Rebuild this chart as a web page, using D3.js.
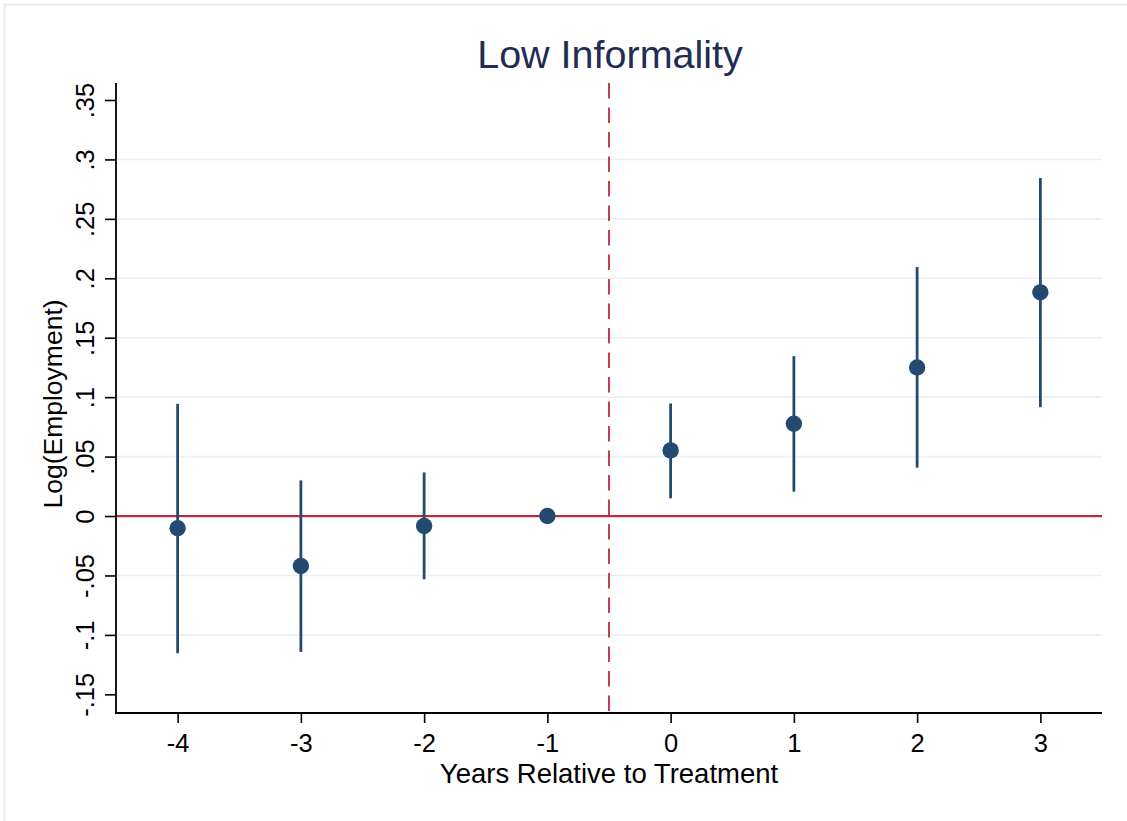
<!DOCTYPE html>
<html>
<head>
<meta charset="utf-8">
<script src="https://cdn.jsdelivr.net/npm/d3@7"></script>
<style>
  html, body { margin: 0; padding: 0; background: #fff; }
  svg { display: block; }
  text { font-family: "Liberation Sans", Arial, Helvetica, sans-serif; }
</style>
</head>
<body>
<svg id="chart" width="1127" height="821"></svg>
<script>
// ---- data ----
const years = [-4, -3, -2, -1, 0, 1, 2, 3];
const xTickLabels = ["-4", "-3", "-2", "-1", "0", "1", "2", "3"];
const estimates = [-0.0103, -0.0420, -0.0084, 0.0000, 0.0552, 0.0776, 0.1250, 0.1882];
const ciLower = [-0.1154, -0.1143, -0.0532, 0.0000, 0.0149, 0.0205, 0.0407, 0.0916];
const ciUpper = [0.0944, 0.0300, 0.0367, 0.0000, 0.0947, 0.1345, 0.2096, 0.2844];
const yTicks = [-0.15, -0.1, -0.05, 0, 0.05, 0.1, 0.15, 0.2, 0.25, 0.3, 0.35];
const yTickLabels = ["-.15", "-.1", "-.05", "0", ".05", ".1", ".15", ".2", ".25", ".3", ".35"];
const gridValues = [-0.1, -0.05, 0.05, 0.1, 0.15, 0.2, 0.25, 0.3];
const treatmentLine = -0.5;
const titleText = "Low Informality";
const xTitle = "Years Relative to Treatment";
const yTitle = "Log(Employment)";

// ---- layout ----
const L = 116, R = 1102, T = 83, B = 713;
const svg = d3.select("#chart");
const navy = "#254a72";
const red = "#b92d41";

const x = d3.scaleLinear().domain([-4.5, 3.5]).range([L, R]);
const y = d3.scaleLinear().domain([-0.1657, 0.3643]).range([B, T]);

// outer frame
svg.append("rect").attr("x", 4.5).attr("y", 4.5).attr("width", 1200).attr("height", 900)
  .attr("fill", "none").attr("stroke", "#e8eef1").attr("stroke-width", 2);

// gridlines
svg.append("g").selectAll("line").data(gridValues).join("line")
  .attr("x1", L).attr("x2", R)
  .attr("y1", d => y(d)).attr("y2", d => y(d))
  .attr("stroke", "#eaf0f3").attr("stroke-width", 1.6);

// zero line
svg.append("line").attr("x1", L).attr("x2", R).attr("y1", y(0)).attr("y2", y(0))
  .attr("stroke", red).attr("stroke-width", 2.2);

// treatment dashed line
svg.append("line").attr("x1", x(treatmentLine)).attr("x2", x(treatmentLine))
  .attr("y1", T).attr("y2", B)
  .attr("stroke", red).attr("stroke-width", 1.8).attr("stroke-dasharray", "15.5,9");

// y axis
const yAxis = d3.axisLeft(y).tickValues(yTicks)
  .tickFormat((d, i) => yTickLabels[i]).tickSize(11).tickSizeOuter(0).tickPadding(11);
const gy = svg.append("g").attr("transform", `translate(${L},0)`).call(yAxis);
gy.select(".domain").attr("stroke", "#000").attr("stroke-width", 1.8)
  .attr("d", `M0,${T}V${B}`);
gy.selectAll(".tick line").attr("stroke", "#000").attr("stroke-width", 1.6);
gy.selectAll(".tick text")
  .attr("font-size", 25.5).attr("fill", "#000")
  .attr("text-anchor", "middle")
  .attr("x", 0).attr("y", 0).attr("dy", 0)
  .attr("transform", "translate(-22,0) rotate(-90)");

// x axis
const xAxis = d3.axisBottom(x).tickValues(years).tickFormat((d, i) => xTickLabels[i])
  .tickSize(10).tickSizeOuter(0).tickPadding(10);
const gx = svg.append("g").attr("transform", `translate(0,${B})`).call(xAxis);
gx.select(".domain").attr("stroke", "#000").attr("stroke-width", 1.8)
  .attr("d", `M${L - 1},0H${R}`);
gx.selectAll(".tick line").attr("stroke", "#000").attr("stroke-width", 1.6);
gx.selectAll(".tick text").attr("font-size", 25.5).attr("fill", "#000")
  .attr("dy", 0).attr("y", 39);

// confidence intervals
svg.append("g").selectAll("line").data(years).join("line")
  .attr("x1", d => x(d)).attr("x2", d => x(d))
  .attr("y1", (d, i) => y(ciLower[i])).attr("y2", (d, i) => y(ciUpper[i]))
  .attr("stroke", navy).attr("stroke-width", 2.8);

// point estimates
svg.append("g").selectAll("circle").data(years).join("circle")
  .attr("cx", d => x(d)).attr("cy", (d, i) => y(estimates[i]))
  .attr("r", 8.2).attr("fill", navy);

// titles
svg.append("text").attr("x", 610).attr("y", 68).attr("text-anchor", "middle")
  .attr("font-size", 39.5).attr("fill", "#1f2d55").text(titleText);

svg.append("text").attr("x", 609).attr("y", 783).attr("text-anchor", "middle")
  .attr("font-size", 27.5).attr("fill", "#000").text(xTitle);

svg.append("text").attr("transform", `translate(62,${404}) rotate(-90)`)
  .attr("text-anchor", "middle").attr("font-size", 26.5).attr("fill", "#000").text(yTitle);
</script>
</body>
</html>
